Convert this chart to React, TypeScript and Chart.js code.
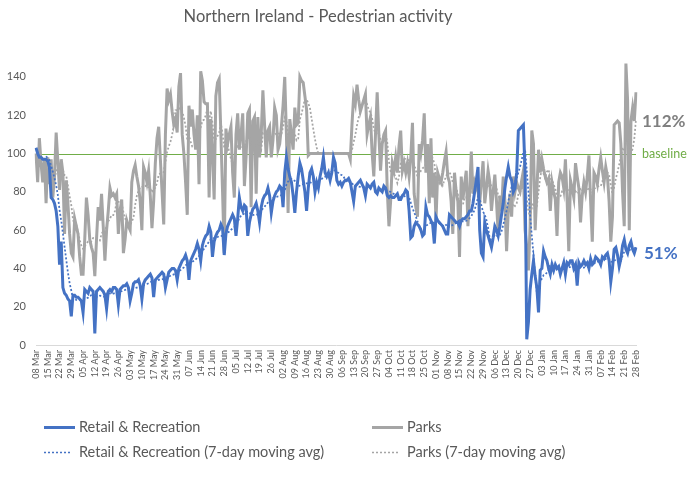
import { useEffect, useRef } from "react";
import { Chart, registerables } from "chart.js";

Chart.register(...registerables);

const TITLE = "Northern Ireland - Pedestrian activity";
const START_YEAR = 2020;
const START_MONTH = 2; // March (0-based)
const START_DAY = 8;
const MONTH_NAMES = ["Jan", "Feb", "Mar", "Apr", "May", "Jun", "Jul", "Aug", "Sep", "Oct", "Nov", "Dec"];
const TICK_EVERY = 7;
const Y_MIN = 0;
const Y_MAX = 150;
const Y_STEP = 20;
const BASELINE_VALUE = 100;
const BASELINE_LABEL = "baseline";
const MA_WINDOW = 7;
const SERIES_NAMES = [
  "Retail & Recreation",
  "Parks",
  "Retail & Recreation (7-day moving avg)",
  "Parks (7-day moving avg)",
];
const END_LABEL_RETAIL = "51%";
const END_LABEL_PARKS = "112%";

// daily values, one row per week (Sunday first), 08 Mar 2020 .. 28 Feb 2021
const RETAIL = [
  103, 100, 98, 98, 97, 97, 97,
  96, 93, 77, 76, 74, 70, 62,
  42, 54, 30, 27, 26, 24, 23,
  15, 26, 26, 25, 25, 24, 23,
  17, 29, 28, 27, 30, 29, 28,
  6, 28, 29, 30, 29, 28, 26,
  19, 28, 29, 28, 30, 30, 29,
  21, 29, 30, 31, 31, 32, 30,
  23, 27, 32, 33, 33, 34, 31,
  24, 32, 34, 35, 36, 37, 35,
  25, 34, 35, 36, 37, 38, 37,
  30, 34, 38, 39, 40, 40, 39,
  34, 40, 42, 44, 45, 47, 44,
  34, 44, 46, 48, 50, 53, 50,
  44, 52, 55, 57, 58, 62, 59,
  46, 54, 57, 59, 60, 63, 61,
  47, 58, 62, 64, 66, 68, 66,
  57, 66, 77, 72, 70, 73, 72,
  57, 64, 68, 71, 72, 74, 70,
  64, 72, 76, 78, 79, 82, 78,
  69, 75, 78, 80, 81, 83, 82,
  72, 90, 98, 92, 88, 85, 78,
  69, 80, 88, 95, 92, 86, 80,
  70, 82, 90, 92, 88, 80, 85,
  82, 88, 92, 98, 90, 88, 90,
  86, 90, 98, 95, 86, 84, 85,
  83, 85, 86, 86, 87, 85, 80,
  75, 83, 84, 85, 86, 84, 82,
  78, 84, 83, 82, 84, 85, 80,
  79, 82, 81, 80, 83, 82, 78,
  77, 78, 77, 77, 78, 79, 76,
  76, 78, 79, 81, 80, 70, 56,
  57, 62, 64, 63, 62, 60, 57,
  58, 72, 68, 67, 65, 63, 53,
  67, 65, 64, 63, 62, 60, 58,
  58, 68, 67, 66, 65, 64, 64,
  62, 65, 66, 66, 67, 68, 70,
  70, 74, 80, 86, 93, 60, 48,
  46, 64, 60, 57, 54, 51, 56,
  62, 60, 57, 62, 68, 74, 82,
  88, 93, 88, 86, 80, 82, 90,
  112, 113, 114, 115, 90, 3, 12,
  29, 37, 44, 36, 30, 17, 39,
  40, 49, 46, 44, 40, 37, 42,
  39, 42, 40, 41, 37, 40, 43,
  37, 43, 42, 44, 44, 40, 42,
  31, 43, 41, 42, 44, 42, 43,
  40, 45, 42, 43, 46, 45, 44,
  42, 46, 45, 47, 48, 44, 33,
  40, 50, 51, 47, 41, 45, 52,
  55, 50, 48, 52, 54, 50, 48,
  51,
];

const PARKS = [
  100, 85, 108, 95, 85, 97, 74,
  98, 84, 97, 77, 88, 111, 96,
  81, 97, 90, 58, 86, 74, 58,
  48, 46, 66, 62, 58, 46, 37,
  37, 55, 77, 68, 55, 51, 48,
  36, 55, 72, 65, 79, 62, 44,
  60, 70, 82, 78, 79, 77, 79,
  58, 70, 76, 48, 55, 65, 62,
  60, 85, 91, 94, 88, 83, 75,
  60, 93, 90, 85, 91, 78, 61,
  75, 95, 108, 114, 97, 80, 63,
  110, 134, 128, 131, 122, 115, 118,
  111, 135, 142, 110, 100, 85, 68,
  125, 114, 123, 110, 102, 120, 84,
  143, 138, 127, 126, 126, 77, 118,
  100, 76, 130, 137, 139, 110, 80,
  48, 113, 105, 110, 114, 90, 77,
  110, 121, 102, 110, 121, 83, 98,
  121, 123, 72, 117, 119, 79, 119,
  98, 110, 133, 115, 98, 112, 114,
  98, 107, 124, 120, 102, 105, 114,
  125, 140, 110, 69, 118, 110, 102,
  124, 115, 116, 140, 138, 137, 130,
  123, 99, 100, 100, 100, 100, 100,
  100, 100, 100, 100, 100, 100, 100,
  100, 100, 100, 100, 100, 100, 100,
  100, 100, 100, 100, 100, 97, 115,
  130, 126, 136, 128, 122, 125, 128,
  131, 110, 115, 119, 100, 88, 110,
  132, 110, 91, 105, 110, 112, 81,
  62, 75, 95, 91, 98, 90, 104,
  112, 91, 95, 90, 95, 88, 98,
  116, 79, 72, 67, 105, 100, 107,
  121, 90, 105, 74, 108, 77, 90,
  65, 90, 87, 85, 90, 96, 101,
  88, 85, 75, 58, 90, 80, 75,
  46, 88, 76, 84, 91, 62, 80,
  101, 79, 85, 82, 80, 74, 85,
  96, 74, 82, 91, 85, 70, 80,
  89, 75, 58, 78, 70, 88, 75,
  49, 70, 79, 67, 88, 80, 85,
  82, 80, 86, 91, 60, 51, 39,
  62, 112, 105, 60, 80, 102, 90,
  97, 92, 88, 85, 87, 70, 85,
  80, 76, 57, 85, 90, 88, 82,
  97, 76, 49, 86, 82, 77, 95,
  88, 82, 64, 78, 85, 80, 88,
  99, 75, 54, 90, 88, 84, 92,
  98, 91, 85, 93, 88, 75, 54,
  67, 115, 116, 117, 116, 105, 80,
  62, 147, 128, 60, 117, 124, 117,
  132,
];

const BLUE = "#4472C4";
const GRAY = "#A5A5A5";
const GREEN = "#70AD47";
const TEXT = "#595959";
const FONT = "Lato";

function dayLabels(n: number): string[] {
  const out: string[] = [];
  for (let i = 0; i < n; i++) {
    const d = new Date(Date.UTC(START_YEAR, START_MONTH, START_DAY + i));
    const dd = String(d.getUTCDate()).padStart(2, "0");
    out.push(dd + " " + MONTH_NAMES[d.getUTCMonth()]);
  }
  return out;
}

function movingAverage(values: number[], w: number): (number | null)[] {
  return values.map((_, i) => {
    if (i < w - 1) return null;
    let s = 0;
    for (let k = i - w + 1; k <= i; k++) s += values[k];
    return s / w;
  });
}

const overlayPlugin = {
  id: "overlay",
  beforeDatasetsDraw(chart: any) {
    const { ctx, chartArea } = chart;
    const y = chart.scales.y.getPixelForValue(BASELINE_VALUE);
    ctx.save();
    ctx.strokeStyle = GREEN;
    ctx.lineWidth = 1;
    ctx.beginPath();
    ctx.moveTo(chartArea.left, Math.round(y) + 0.5);
    ctx.lineTo(chartArea.right, Math.round(y) + 0.5);
    ctx.stroke();
    ctx.restore();
  },
  afterDatasetsDraw(chart: any) {
    const { ctx, chartArea } = chart;
    const ys = chart.scales.y;
    const ds = chart.data.datasets;
    const lastOf = (arr: any[]) => arr[arr.length - 1] as number;
    ctx.save();
    ctx.textBaseline = "middle";
    ctx.textAlign = "left";
    ctx.fillStyle = GREEN;
    ctx.font = `12.5px ${FONT}`;
    ctx.fillText(BASELINE_LABEL, chartArea.right + 6, ys.getPixelForValue(BASELINE_VALUE));
    ctx.font = `bold 17px ${FONT}`;
    ctx.fillStyle = "#7F7F7F";
    ctx.fillText(END_LABEL_PARKS, chartArea.right + 6, ys.getPixelForValue(lastOf(ds[3].data)) + 2);
    ctx.fillStyle = BLUE;
    ctx.fillText(END_LABEL_RETAIL, chartArea.right + 8, ys.getPixelForValue(lastOf(ds[2].data)) + 5);
    ctx.restore();
  },
  afterDraw(chart: any) {
    const { ctx } = chart;
    const colX = [44, 372];
    const rowY = [427, 452];
    ctx.save();
    chart.data.datasets.forEach((d: any, i: number) => {
      const x = colX[i % 2];
      const y = rowY[Math.floor(i / 2)];
      const dotted = Array.isArray(d.borderDash) && d.borderDash.length > 0;
      ctx.strokeStyle = d.borderColor;
      ctx.lineWidth = dotted ? 1.5 : 3;
      ctx.setLineDash(dotted ? d.borderDash : []);
      ctx.beginPath();
      ctx.moveTo(x, y + 0.5);
      ctx.lineTo(x + (dotted ? 27 : 31), y + 0.5);
      ctx.stroke();
      ctx.setLineDash([]);
      ctx.fillStyle = TEXT;
      ctx.font = `14.5px ${FONT}`;
      ctx.textBaseline = "middle";
      ctx.textAlign = "left";
      ctx.fillText(d.label, x + 35, y);
    });
    ctx.restore();
  },
};

export default function App() {
  const ref = useRef<HTMLCanvasElement | null>(null);

  useEffect(() => {
    if (!ref.current) return;
    const labels = dayLabels(RETAIL.length);
    const retailMA = movingAverage(RETAIL, MA_WINDOW);
    const parksMA = movingAverage(PARKS, MA_WINDOW);

    const chart = new Chart(ref.current, {
      type: "line",
      data: {
        labels,
        datasets: [
          { label: SERIES_NAMES[0], data: RETAIL, borderColor: BLUE, borderWidth: 3, pointRadius: 0, tension: 0, order: 1 },
          { label: SERIES_NAMES[1], data: PARKS, borderColor: GRAY, borderWidth: 3, pointRadius: 0, tension: 0, order: 3 },
          { label: SERIES_NAMES[2], data: retailMA, borderColor: BLUE, borderWidth: 1.75, borderDash: [2, 2], pointRadius: 0, tension: 0, order: 0 },
          { label: SERIES_NAMES[3], data: parksMA, borderColor: GRAY, borderWidth: 1.75, borderDash: [2, 2], pointRadius: 0, tension: 0, order: 2 },
        ] as any,
      },
      options: {
        responsive: false,
        animation: false,
        events: [],
        layout: { padding: { left: 0, right: 59, top: 0, bottom: 0 } },
        plugins: {
          legend: { display: false },
          tooltip: { enabled: false },
          title: {
            display: true,
            text: TITLE,
            color: TEXT,
            font: { family: FONT, size: 16.5, weight: "normal" },
            padding: { top: 7, bottom: 31 },
          },
        },
        scales: {
          x: {
            type: "category",
            offset: false,
            grid: { display: false, drawTicks: false },
            border: { display: true, color: "#D9D9D9", width: 1 },
            ticks: {
              autoSkip: false,
              maxRotation: 90,
              minRotation: 90,
              padding: 5,
              color: TEXT,
              font: { family: FONT, size: 9 },
              callback: function (this: any, value: any, index: number) {
                return index % TICK_EVERY === 0 ? this.getLabelForValue(value) : null;
              },
            },
            afterFit: (s: any) => {
              s.height = 151;
            },
          },
          y: {
            min: Y_MIN,
            max: Y_MAX,
            grid: { display: false, drawTicks: false },
            border: { display: false },
            ticks: {
              stepSize: Y_STEP,
              padding: 10,
              color: TEXT,
              font: { family: FONT, size: 11 },
              callback: (v: any) => (Number(v) % Y_STEP === 0 ? String(v) : ""),
            },
            afterFit: (s: any) => {
              s.width = 36;
            },
          },
        },
      } as any,
      plugins: [overlayPlugin],
    });
    return () => chart.destroy();
  }, []);

  return (
    <div style={{ position: "fixed", left: 0, top: 0, width: 695, height: 496, background: "#fff" }}>
      <canvas ref={ref} width={695} height={496} />
    </div>
  );
}
